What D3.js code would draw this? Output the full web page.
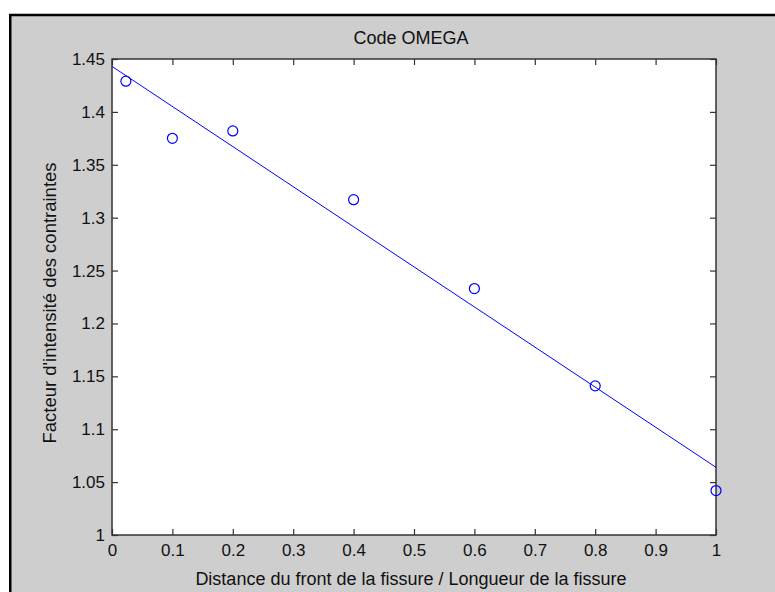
<!DOCTYPE html>
<html><head><meta charset="utf-8">
<script src="https://cdn.jsdelivr.net/npm/d3@7"></script>
<style>html,body{margin:0;padding:0;background:#fff;}svg{display:block;}</style>
</head><body>
<script>
const pointX = [0.023, 0.1, 0.2, 0.4, 0.6, 0.8, 1.0];
const pointY = [1.429, 1.375, 1.382, 1.317, 1.233, 1.141, 1.042];
const fitX = [0, 1];
const fitY = [1.443, 1.064];
const xTicks = [0, 0.1, 0.2, 0.3, 0.4, 0.5, 0.6, 0.7, 0.8, 0.9, 1];
const yTicks = [1, 1.05, 1.1, 1.15, 1.2, 1.25, 1.3, 1.35, 1.4, 1.45];
const title = "Code OMEGA";
const xLabel = "Distance du front de la fissure / Longueur de la fissure";
const yLabel = "Facteur d'intensité des contraintes";

const W = 775, H = 592;
const L = 112, R = 716, T = 59, B = 535;
const font = "'Liberation Sans', Arial, sans-serif";
const svg = d3.select("body").append("svg").attr("width", W).attr("height", H);

svg.append("rect").attr("x", 10.25).attr("y", 15).attr("width", W).attr("height", H)
  .attr("fill", "#cecece").attr("stroke", "#000").attr("stroke-width", 2.5);

const x = d3.scaleLinear().domain([0, 1]).range([L, R]);
const y = d3.scaleLinear().domain([1, 1.45]).range([B, T]);

svg.append("rect").attr("x", L).attr("y", T).attr("width", R - L).attr("height", B - T).attr("fill", "#fff");

const tl = 6;
function styleAxis(g) {
  g.select(".domain").remove();
  g.selectAll("line").attr("stroke", "#333").attr("stroke-width", 1.2);
  g.selectAll("text").attr("font-family", font).attr("font-size", 17).attr("fill", "#111");
}
svg.append("g").attr("transform", `translate(0,${B})`)
  .call(d3.axisBottom(x).tickValues(xTicks).tickSize(-tl).tickPadding(9).tickFormat(d3.format("")))
  .call(styleAxis);
svg.append("g").attr("transform", `translate(0,${T})`)
  .call(d3.axisTop(x).tickValues(xTicks).tickSize(-tl).tickFormat(""))
  .call(styleAxis);
svg.append("g").attr("transform", `translate(${L},0)`)
  .call(d3.axisLeft(y).tickValues(yTicks).tickSize(-tl).tickPadding(7).tickFormat(d3.format("")))
  .call(styleAxis);
svg.append("g").attr("transform", `translate(${R},0)`)
  .call(d3.axisRight(y).tickValues(yTicks).tickSize(-tl).tickFormat(""))
  .call(styleAxis);

svg.append("rect").attr("x", L).attr("y", T).attr("width", R - L).attr("height", B - T)
  .attr("fill", "none").attr("stroke", "#333").attr("stroke-width", 1.5);

const line = d3.line().x((d, i) => x(fitX[i])).y((d, i) => y(fitY[i]));
svg.append("path").datum(fitX).attr("d", line).attr("fill", "none").attr("stroke", "#0000ff").attr("stroke-width", 1);

svg.append("g").selectAll("circle").data(pointX).join("circle")
  .attr("cx", (d) => x(d)).attr("cy", (d, i) => y(pointY[i])).attr("r", 5)
  .attr("fill", "none").attr("stroke", "#0000ff").attr("stroke-width", 1.2);

svg.append("text").attr("x", 411).attr("y", 44).attr("text-anchor", "middle")
  .attr("font-family", font).attr("font-size", 18).attr("fill", "#111").text(title);
svg.append("text").attr("x", 411).attr("y", 585).attr("text-anchor", "middle")
  .attr("font-family", font).attr("font-size", 18).attr("fill", "#111").text(xLabel);
svg.append("text").attr("transform", "translate(56,303) rotate(-90)").attr("text-anchor", "middle")
  .attr("font-family", font).attr("font-size", 18.5).attr("fill", "#111").text(yLabel);
</script>
</body></html>
